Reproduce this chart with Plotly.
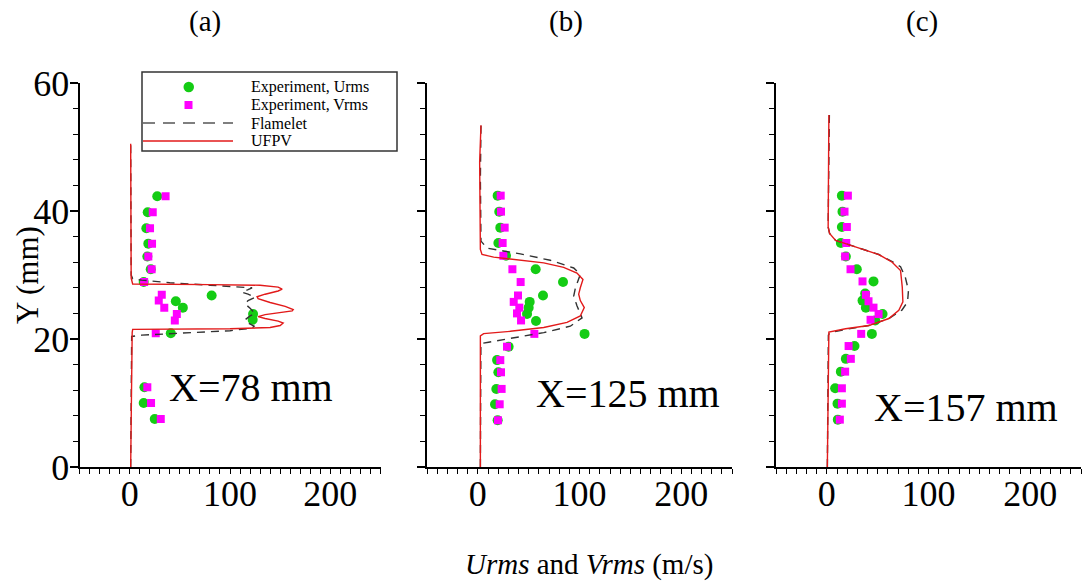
import plotly.graph_objects as go

FONT = "Liberation Serif"
W, H = 1085, 581
GREEN = "#14cc14"
MAGENTA = "#ff00ff"
RED = "#e21a1a"
DASHC = "#333333"

# ---------------- data: panel (a) X=78 mm ----------------
a_urms_x = [27.5, 18, 16.6, 18.6, 17.6, 21, 14, 81.7, 46, 53, 123, 122.6, 41, 14.7, 14, 25]
a_urms_y = [42.3, 39.8, 37.3, 34.9, 32.9, 30.9, 28.9, 26.8, 25.9, 24.9, 23.9, 23.0, 20.9, 12.45, 10.0, 7.5]
a_vrms_x = [35.8, 23, 20.3, 22.3, 18.6, 21.9, 14.4, 32, 29, 34.5, 47, 45, 26, 17.6, 21.3, 31]
a_vrms_y = [42.3, 39.8, 37.3, 34.9, 32.9, 30.9, 28.9, 26.9, 26.0, 24.9, 23.9, 22.9, 20.9, 12.45, 10.0, 7.5]
a_flam_x = [1, 1.5, 2, 12, 50, 100, 122, 124, 118, 115, 120, 125, 120, 115, 118, 125, 118, 112, 118, 122, 80, 40, 12, 3, 1.5, 1, 1]
a_flam_y = [0, 10, 20.4, 20.6, 20.9, 21.3, 21.7, 22.0, 22.5, 23.0, 23.6, 24.0, 24.8, 25.5, 26.0, 26.5, 27.0, 27.3, 27.7, 28.0, 28.4, 28.8, 29.2, 29.4, 30, 40, 50.5]
a_ufpv_x = [1.0, 1.5, 2.5, 3, 40, 100, 140, 150, 153, 148, 135, 128, 135, 150, 162, 163, 155, 140, 128, 127, 135, 148, 152, 148, 130, 80, 20, 3, 1.5, 1.0, 1.0]
a_ufpv_y = [0, 10, 21.0, 21.5, 21.55, 21.6, 21.8, 22.1, 22.5, 22.8, 23.2, 23.5, 23.8, 24.1, 24.4, 24.6, 25.1, 25.7, 26.3, 26.6, 27.0, 27.5, 27.8, 28.1, 28.4, 28.5, 28.55, 28.6, 29.5, 40, 50.5]

# ---------------- data: panel (b) X=125 mm ----------------
b_urms_x = [19.5, 21.1, 22.1, 20.2, 27.7, 56.9, 83.8, 64.1, 51, 50, 48.4, 57.2, 105, 30.3, 18.9, 20.2, 18.2, 16.9, 19.5]
b_urms_y = [42.4, 39.9, 37.4, 35.0, 33.0, 30.9, 28.9, 26.8, 25.8, 24.9, 23.9, 22.8, 20.8, 18.8, 16.7, 14.8, 12.2, 9.8, 7.3]
b_vrms_x = [22.5, 22.8, 26.4, 24.4, 25.1, 34, 42.1, 39.5, 35.3, 40.8, 38.5, 42.5, 55.6, 28.7, 22.1, 22.8, 23.4, 21.5, 19.8]
b_vrms_y = [42.4, 39.9, 37.4, 35.0, 33.0, 30.9, 28.9, 26.8, 25.8, 24.9, 24.0, 22.9, 20.8, 18.8, 16.7, 14.8, 12.2, 9.8, 7.3]
b_flam_x = [2.5, 2.5, 3, 10.6, 31.9, 64.8, 91, 102.5, 97.5, 94.3, 96, 100.8, 94.3, 71.3, 41.8, 9, 3.1, 2.5, 3.1]
b_flam_y = [0, 10, 19.3, 19.5, 20.1, 21.0, 22.0, 23.3, 25.2, 26.7, 28.0, 30.1, 31.1, 32.3, 33.3, 34.2, 35.3, 45, 53.4]
b_ufpv_x = [2.5, 2.5, 5.7, 31.9, 64.8, 87.7, 100.8, 104.7, 100.8, 99.2, 100.8, 103.4, 97.5, 84.4, 64.8, 38.5, 15.6, 4.1, 2.5, 1.8, 3.1]
b_ufpv_y = [0, 20.5, 20.85, 21.2, 21.8, 22.6, 23.6, 24.9, 26.0, 27.0, 28.0, 29.3, 30.3, 31.2, 31.9, 32.4, 32.8, 33.2, 34.0, 47.7, 53.4]

# ---------------- data: panel (c) X=157 mm ----------------
c_urms_x = [14.8, 15.4, 14.8, 13.8, 18.7, 29.5, 45.9, 37.7, 35.1, 38.4, 54.8, 47.6, 44.3, 27.2, 18.7, 13.8, 8.2, 10.5, 10.8]
c_urms_y = [42.4, 39.9, 37.5, 35.0, 32.9, 30.9, 29.0, 27.1, 26.0, 24.9, 23.9, 22.9, 20.8, 18.9, 16.9, 14.9, 12.3, 9.9, 7.4]
c_vrms_x = [20.7, 17.4, 19.7, 19.1, 18.0, 23.3, 35.1, 38.4, 41.0, 45.9, 50.9, 43.0, 33.8, 21.4, 23.6, 18.0, 14.8, 14.8, 12.8]
c_vrms_y = [42.4, 39.9, 37.5, 35.0, 32.9, 30.9, 29.0, 26.9, 25.9, 24.9, 23.9, 23.0, 20.8, 18.9, 16.9, 14.9, 12.3, 9.9, 7.4]
c_flam_x = [0.5, 1.5, 3, 18.4, 41.3, 61, 73.8, 79.4, 80.3, 77.1, 72.5, 64.3, 51.2, 34.8, 18.4, 8.6, 2.7, 1.3, 2.5]
c_flam_y = [0, 20.6, 21.0, 21.5, 22.1, 23.2, 24.5, 25.8, 27.6, 29.7, 31.3, 32.1, 33.2, 34.1, 34.9, 35.4, 36.5, 37.5, 55.0]
c_ufpv_x = [0.5, 1.3, 2.0, 18.4, 41.3, 61, 70.8, 74.8, 74.2, 72.5, 64.3, 51.2, 34.8, 18.4, 8.6, 2.7, 1.3, 2.0]
c_ufpv_y = [0, 20.8, 21.1, 21.6, 22.1, 23.2, 24.5, 25.8, 28.1, 30.7, 32.0, 33.2, 34.1, 34.9, 35.4, 36.5, 37.5, 55.0]

panel_titles = ["(a)", "(b)", "(c)"]
panel_labels = ["X=78 mm", "X=125 mm", "X=157 mm"]
legend_names = ["Experiment, Urms", "Experiment, Vrms", "Flamelet", "UFPV"]
x_tick_labels = [0, 100, 200]
x_long_ticks = [-50, 50, 150, 250]
y_tick_labels = [0, 20, 40, 60]

panels = [
    (a_urms_x, a_urms_y, a_vrms_x, a_vrms_y, a_flam_x, a_flam_y, a_ufpv_x, a_ufpv_y),
    (b_urms_x, b_urms_y, b_vrms_x, b_vrms_y, b_flam_x, b_flam_y, b_ufpv_x, b_ufpv_y),
    (c_urms_x, c_urms_y, c_vrms_x, c_vrms_y, c_flam_x, c_flam_y, c_ufpv_x, c_ufpv_y),
]

# layout geometry (pixels -> paper)
def PX(px):
    return px / W

def PY(py):
    return 1 - py / H

x_domains = [[PX(79.5), PX(380.5)], [PX(427), PX(732)], [PX(776), PX(1081)]]
y_domain = [PY(467), PY(83)]
label_pos = [(121, 12.4), (148, 11.5), (137, 9.3)]
title_px = [205, 566, 922]

fig = go.Figure()
for i, (ux, uy, vx, vy, fx, fy, rx, ry) in enumerate(panels):
    xa = "x" if i == 0 else f"x{i+1}"
    ya = "y" if i == 0 else f"y{i+1}"
    fig.add_trace(go.Scatter(x=ux, y=uy, mode="markers", name=legend_names[0],
                             marker=dict(symbol="circle", size=10, color=GREEN),
                             xaxis=xa, yaxis=ya, showlegend=False))
    fig.add_trace(go.Scatter(x=vx, y=vy, mode="markers", name=legend_names[1],
                             marker=dict(symbol="square", size=8, color=MAGENTA),
                             xaxis=xa, yaxis=ya, showlegend=False))
    fig.add_trace(go.Scatter(x=fx, y=fy, mode="lines", name=legend_names[2],
                             line=dict(color=DASHC, width=1.4, dash="8px,6px"),
                             xaxis=xa, yaxis=ya, showlegend=False))
    fig.add_trace(go.Scatter(x=rx, y=ry, mode="lines", name=legend_names[3],
                             line=dict(color=RED, width=1.4),
                             xaxis=xa, yaxis=ya, showlegend=False))

tickfont = dict(family=FONT, size=36, color="black")
layout = dict(
    width=W, height=H,
    margin=dict(l=0, r=0, t=0, b=0, autoexpand=False),
    paper_bgcolor="white", plot_bgcolor="white",
    showlegend=False,
)
for i in range(3):
    xk = "xaxis" if i == 0 else f"xaxis{i+1}"
    yk = "yaxis" if i == 0 else f"yaxis{i+1}"
    xa = "x" if i == 0 else f"x{i+1}"
    ya = "y" if i == 0 else f"y{i+1}"
    layout[xk] = dict(
        domain=x_domains[i], range=[-50, 250], anchor=ya, automargin=False,
        tickvals=x_tick_labels, ticks="outside", ticklen=5, tickwidth=1.2, tickcolor="black",
        ticklabelstandoff=-11,
        showline=True, linewidth=2, linecolor="black", showgrid=False, zeroline=False,
        tickfont=tickfont,
        minor=dict(dtick=10, tick0=0, ticks="outside", ticklen=5, tickwidth=1.2,
                   tickcolor="black", showgrid=False),
    )
    layout[f"xaxis{i+4}"] = dict(
        overlaying=xa, anchor=ya, range=[-50, 250], tickvals=x_long_ticks, automargin=False,
        ticks="outside", ticklen=10, tickwidth=1.5, tickcolor="black",
        showticklabels=False, showline=False, showgrid=False, zeroline=False,
    )
    layout[yk] = dict(
        domain=y_domain, range=[0, 60], anchor=xa, automargin=False,
        tickvals=y_tick_labels, ticks="outside", ticklen=8, tickwidth=1.5, tickcolor="black",
        ticklabelstandoff=-7,
        showline=True, linewidth=2, linecolor="black", showgrid=False, zeroline=False,
        showticklabels=(i == 0), tickfont=tickfont,
        minor=dict(dtick=4, tick0=0, ticks="outside", ticklen=5, tickwidth=1.2,
                   tickcolor="black", showgrid=False),
    )
fig.update_layout(**layout)

annotations = []
for i in range(3):
    xa = "x" if i == 0 else f"x{i+1}"
    ya = "y" if i == 0 else f"y{i+1}"
    annotations.append(dict(text=panel_titles[i], x=PX(title_px[i]), y=PY(22), xref="paper", yref="paper",
                            showarrow=False, font=dict(family=FONT, size=29, color="black"),
                            xanchor="center", yanchor="middle"))
    annotations.append(dict(text=panel_labels[i], x=label_pos[i][0], y=label_pos[i][1], xref=xa, yref=ya,
                            showarrow=False, font=dict(family=FONT, size=40, color="black"),
                            xanchor="center", yanchor="middle"))
annotations.append(dict(text="Y (mm)", x=PX(27), y=PY(275), xref="paper", yref="paper", textangle=-90,
                        showarrow=False, font=dict(family=FONT, size=31, color="black"),
                        xanchor="center", yanchor="middle"))
annotations.append(dict(text="<i>Urms</i> and <i>Vrms</i> (m/s)", x=PX(589), y=PY(564), xref="paper", yref="paper",
                        showarrow=False, font=dict(family=FONT, size=29, color="black"),
                        xanchor="center", yanchor="middle"))

# manual legend box (Tecplot style)
leg_rows = [87, 105, 123, 141]
shapes = [dict(type="rect", xref="paper", yref="paper", x0=PX(142), x1=PX(397), y0=PY(72), y1=PY(151),
               line=dict(color="#333333", width=1.5), fillcolor="white", layer="above")]
shapes.append(dict(type="circle", xref="paper", yref="paper", x0=PX(183.5), x1=PX(194), y0=PY(leg_rows[0] - 5.2),
                   y1=PY(leg_rows[0] + 5.2), line=dict(width=0), fillcolor=GREEN, layer="above"))
shapes.append(dict(type="rect", xref="paper", yref="paper", x0=PX(184.5), x1=PX(192.5), y0=PY(leg_rows[1] - 4),
                   y1=PY(leg_rows[1] + 4), line=dict(width=0), fillcolor=MAGENTA, layer="above"))
shapes.append(dict(type="line", xref="paper", yref="paper", x0=PX(143), x1=PX(233), y0=PY(leg_rows[2]),
                   y1=PY(leg_rows[2]), line=dict(color="#555555", width=1.6, dash="12px,8px"), layer="above"))
shapes.append(dict(type="line", xref="paper", yref="paper", x0=PX(143), x1=PX(233), y0=PY(leg_rows[3]),
                   y1=PY(leg_rows[3]), line=dict(color=RED, width=1.6), layer="above"))
for name, ry in zip(legend_names, leg_rows):
    annotations.append(dict(text=name, x=PX(249), y=PY(ry), xref="paper", yref="paper", showarrow=False,
                            font=dict(family=FONT, size=16, color="black"), xanchor="left", yanchor="middle"))

fig.update_layout(annotations=annotations, shapes=shapes)
fig.write_html("out.html")
